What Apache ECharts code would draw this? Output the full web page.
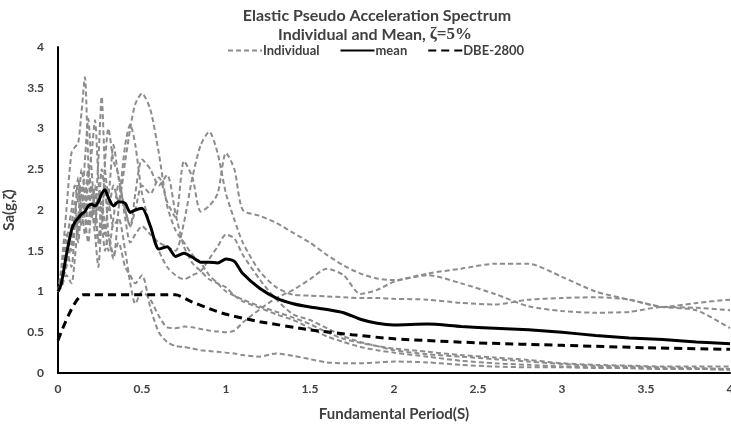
<!DOCTYPE html>
<html>
<head>
<meta charset="utf-8">
<script src="https://cdn.jsdelivr.net/npm/echarts@6/dist/echarts.min.js"></script>
<style>
html,body{margin:0;padding:0;background:#fff;}
#chart{width:731px;height:427px;}
</style>
</head>
<body>
<div id="chart"></div>
<script>
// Periods (s) shared by the individual records and the mean
const periods = [0,0.02,0.05,0.08,0.1,0.12,0.14,0.16,0.18,0.2,0.22,0.24,0.26,0.28,0.3,0.33,0.36,0.4,0.43,0.46,0.5,0.55,0.6,0.65,0.7,0.75,0.8,0.85,0.9,0.95,1.0,1.05,1.1,1.2,1.3,1.4,1.5,1.6,1.7,1.8,1.9,2.0,2.2,2.4,2.6,2.8,3.0,3.2,3.4,3.6,3.8,4.0];

const rec1 = [1.0,1.3,2.0,2.7,2.77,2.82,3.2,3.63,2.6,1.9,2.2,1.6,1.8,1.5,1.7,1.45,1.6,1.3,1.2,1.1,1.2,0.8,0.5,0.38,0.33,0.32,0.3,0.28,0.27,0.26,0.25,0.24,0.22,0.2,0.24,0.21,0.17,0.13,0.12,0.12,0.13,0.14,0.13,0.1,0.08,0.07,0.07,0.06,0.06,0.05,0.05,0.04];
const rec2 = [1.0,1.1,1.3,1.6,1.9,1.6,2.0,1.7,2.2,1.9,2.3,2.0,2.5,2.2,2.0,2.3,2.1,2.6,3.0,3.3,3.43,3.23,2.7,2.05,1.75,1.6,1.45,1.35,1.2,1.1,1.0,0.95,0.9,0.82,0.75,0.68,0.6,0.5,0.42,0.37,0.33,0.3,0.26,0.22,0.19,0.16,0.12,0.1,0.09,0.08,0.08,0.08];
const rec3 = [1.0,1.2,1.5,1.3,1.8,2.4,2.0,2.6,3.12,2.5,2.0,2.6,3.39,2.5,2.2,2.8,2.4,2.0,1.8,2.2,2.62,2.5,2.3,2.43,1.95,1.55,1.35,1.25,1.15,1.1,1.05,0.95,0.88,0.8,0.72,0.65,0.55,0.45,0.38,0.32,0.28,0.25,0.2,0.15,0.12,0.1,0.08,0.07,0.06,0.05,0.05,0.04];
const rec4 = [1.0,1.05,1.2,1.1,1.4,1.9,2.3,2.0,2.4,2.7,3.1,2.4,1.8,2.6,3.0,2.6,2.43,1.9,1.6,1.7,1.8,1.7,1.6,1.55,1.5,1.85,2.4,2.8,2.96,2.7,2.2,1.88,1.6,1.25,1.05,0.96,0.95,0.94,0.93,0.92,0.92,0.91,0.9,0.86,0.84,0.9,0.92,0.93,0.9,0.81,0.86,0.9];
const rec5 = [1.0,1.1,1.4,1.8,2.1,1.7,2.2,1.9,1.6,2.0,1.7,1.3,1.9,2.3,1.7,1.4,2.0,2.8,3.05,2.8,2.2,1.8,1.5,1.3,1.2,1.15,1.2,1.25,1.4,1.55,1.7,1.65,1.45,1.15,0.9,0.72,0.65,0.55,0.45,0.38,0.33,0.28,0.23,0.2,0.17,0.14,0.11,0.09,0.08,0.07,0.06,0.05];
const rec6 = [1.0,1.15,1.6,2.0,2.3,2.1,2.5,2.2,1.8,2.3,2.0,1.6,2.1,1.8,1.5,1.9,2.3,2.0,1.8,2.0,2.3,2.2,2.4,2.1,1.91,2.6,2.4,1.98,2.05,2.2,2.7,2.5,2.0,1.93,1.84,1.72,1.6,1.45,1.32,1.22,1.16,1.14,1.2,1.1,0.97,0.82,0.76,0.74,0.75,0.81,0.8,0.77];
const rec7 = [1.0,1.2,1.7,1.5,1.9,2.3,1.8,2.1,2.5,2.2,1.8,2.2,2.0,1.7,2.1,1.8,1.9,1.5,1.1,0.85,1.0,0.9,0.7,0.56,0.55,0.57,0.56,0.54,0.52,0.51,0.5,0.52,0.62,0.78,0.92,1.02,1.15,1.28,1.2,0.97,1.02,1.12,1.22,1.28,1.34,1.34,1.18,1.0,0.9,0.81,0.77,0.55];
const individuals = [rec1, rec2, rec3, rec4, rec5, rec6, rec7];

const meanValues = [1.0,1.1,1.45,1.75,1.85,1.9,1.95,1.98,2.05,2.07,2.05,2.1,2.2,2.25,2.15,2.05,2.1,2.08,1.97,2.0,2.02,1.8,1.52,1.55,1.43,1.47,1.42,1.36,1.36,1.35,1.4,1.37,1.22,1.04,0.92,0.85,0.81,0.78,0.74,0.66,0.61,0.59,0.6,0.57,0.55,0.53,0.5,0.46,0.43,0.41,0.38,0.36];

// DBE-2800 design spectrum
const dbePeriods = [0,0.15,0.7,0.8,0.9,1.0,1.2,1.5,1.75,2.0,2.5,3.0,3.5,4.0];
const dbeValues  = [0.4,0.96,0.96,0.87,0.79,0.72,0.63,0.53,0.47,0.42,0.37,0.34,0.31,0.29];

const xTicks = [0,0.5,1,1.5,2,2.5,3,3.5,4];
const yTicks = [0,0.5,1,1.5,2,2.5,3,3.5,4];

const FONT = 'Lato';
const TXT = '#404040';

const pairs = (xs, ys) => xs.map((x, i) => [x, ys[i]]);

const series = individuals.map(r => ({
  name: 'Individual', type: 'line', data: pairs(periods, r),
  symbol: 'none', smooth: 0.25, z: 2,
  lineStyle: {color: '#8c8c8c', width: 2, type: [5, 3]},
  itemStyle: {color: '#8c8c8c'}
}));
series.push({
  name: 'mean', type: 'line', data: pairs(periods, meanValues),
  symbol: 'none', smooth: 0.25, z: 4,
  lineStyle: {color: '#000', width: 3}, itemStyle: {color: '#000'}
});
series.push({
  name: 'DBE-2800', type: 'line', data: pairs(dbePeriods, dbeValues),
  symbol: 'none', smooth: 0.2, z: 3,
  lineStyle: {color: '#000', width: 3, type: [8, 5]}, itemStyle: {color: '#000'}
});

const chart = echarts.init(document.getElementById('chart'), null, {renderer: 'canvas'});
chart.setOption({
  animation: false,
  backgroundColor: '#fff',
  title: [
    {text: 'Elastic Pseudo Acceleration Spectrum', left: 372, top: 3, textAlign: 'center',
     textStyle: {fontFamily: FONT, fontWeight: 'bold', fontSize: 16, color: TXT}},
    {text: 'Individual and Mean, {z|ζ=5%}', left: 370, top: 21, textAlign: 'center',
     textStyle: {fontFamily: FONT, fontWeight: 'bold', fontSize: 16, color: TXT,
       rich: {z: {fontFamily: 'Liberation Serif', fontWeight: 'bold', fontSize: 17, color: TXT}}}}
  ],
  legend: {
    data: ['Individual', 'mean', 'DBE-2800'],
    left: 222, top: 39, itemWidth: 34, itemHeight: 12, itemGap: 20,
    itemStyle: {color: 'transparent', borderColor: 'transparent', borderWidth: 0, opacity: 0},
    textStyle: {fontFamily: FONT, fontWeight: 'bold', fontSize: 13, color: TXT, padding: [0,0,0,-4]}
  },
  grid: {left: 58, right: 1, top: 47, bottom: 54, containLabel: false, outerBoundsMode: 'none'},
  xAxis: {
    type: 'value', min: 0, max: 4, interval: 0.5,
    name: 'Fundamental Period(S)', nameLocation: 'middle', nameGap: 34,
    nameTextStyle: {fontFamily: FONT, fontWeight: 'bold', fontSize: 15, color: TXT},
    axisLine: {show: true, lineStyle: {color: '#000', width: 2}},
    axisTick: {show: false}, splitLine: {show: false},
    axisLabel: {fontFamily: FONT, fontWeight: 'bold', fontSize: 12, color: TXT, margin: 10,
      formatter: v => (xTicks.indexOf(v) >= 0 ? String(v) : '')}
  },
  yAxis: {
    type: 'value', min: 0, max: 4, interval: 0.5,
    name: 'Sa(g,ζ)', nameLocation: 'middle', nameGap: 33, nameRotate: 90,
    nameTextStyle: {fontFamily: FONT, fontWeight: 'bold', fontSize: 15, color: TXT},
    axisLine: {show: true, lineStyle: {color: '#000', width: 2}},
    axisTick: {show: false}, splitLine: {show: false},
    axisLabel: {fontFamily: FONT, fontWeight: 'bold', fontSize: 12, color: TXT, margin: 14,
      formatter: v => (yTicks.indexOf(v) >= 0 ? String(v) : '')}
  },
  series: series
});
</script>
</body>
</html>
